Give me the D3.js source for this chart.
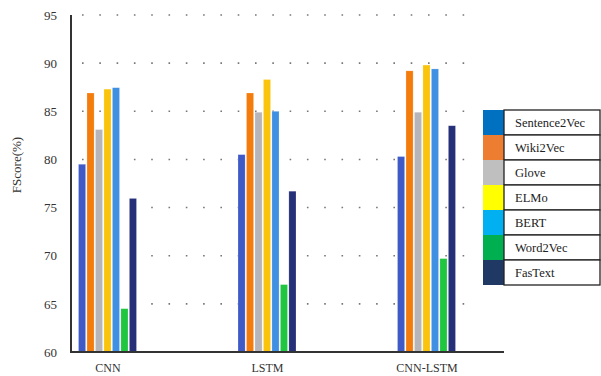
<!DOCTYPE html>
<html>
<head>
<meta charset="utf-8">
<script src="https://cdn.jsdelivr.net/npm/d3@7"></script>
<style>
  body { margin: 0; background: #fff; }
  svg text { font-family: "Liberation Serif", "Times New Roman", "DejaVu Serif", serif !important; }
</style>
</head>
<body>
<svg id="chart" width="601" height="376"></svg>
<script>
const categories = ["CNN", "LSTM", "CNN-LSTM"];
const seriesNames = ["Sentence2Vec", "Wiki2Vec", "Glove", "ELMo", "BERT", "Word2Vec", "FasText"];
const sentence2vec = [79.5, 80.5, 80.3];
const wiki2vec     = [86.9, 86.9, 89.2];
const glove        = [83.1, 84.9, 84.9];
const elmo         = [87.3, 88.3, 89.8];
const bert         = [87.45, 85.0, 89.4];
const word2vec     = [64.5, 67.0, 69.7];
const fastext      = [75.95, 76.7, 83.5];
const yTicks = [60, 65, 70, 75, 80, 85, 90, 95];
const barColors    = ["#3F5AC6", "#F47C0C", "#B5B5BA", "#FAC40C", "#3F8FE3", "#20C540", "#253078"];
const legendColors = ["#0070C0", "#ED7D31", "#BFBFBF", "#FFFF00", "#00B0F0", "#00B050", "#1F3864"];

const seriesValues = [sentence2vec, wiki2vec, glove, elmo, bert, word2vec, fastext];

const svg = d3.select("#chart");
const axisLeftX = 71, axisBottomY = 352, axisTopY = 15, axisRightX = 504;

const y = d3.scaleLinear().domain([60, 95]).range([axisBottomY, axisTopY]);
const x0 = d3.scalePoint().domain(categories).range([107.5, 426.5]);
const x1 = d3.scaleBand().domain(seriesNames).range([-29, 29]).paddingInner(0.16);

// grid (dotted)
const grid = svg.append("g");
grid.selectAll("line").data(yTicks.filter(t => t > 60)).enter().append("line")
  .attr("x1", 82).attr("x2", 465)
  .attr("y1", d => y(d)).attr("y2", d => y(d))
  .attr("stroke", "#777").attr("stroke-width", 1.6)
  .attr("stroke-dasharray", "1.6 15.7");

// bars
const groups = svg.append("g").selectAll("g").data(categories).enter().append("g")
  .attr("transform", d => `translate(${x0(d)},0)`);
groups.selectAll("rect")
  .data((c, ci) => seriesNames.map((s, si) => ({ s, si, v: seriesValues[si][ci] })))
  .enter().append("rect")
  .attr("x", d => x1(d.s))
  .attr("width", x1.bandwidth())
  .attr("y", d => y(d.v))
  .attr("height", d => y(60) - y(d.v))
  .attr("fill", d => barColors[d.si])
  .attr("stroke", "#ffffff").attr("stroke-opacity", 0.35).attr("stroke-width", 0.6);

// y axis
const yAxis = d3.axisLeft(y).tickValues(yTicks).tickSize(0).tickPadding(14).tickFormat(d3.format("d"));
const yg = svg.append("g").attr("transform", `translate(${axisLeftX},0)`).call(yAxis);
yg.select(".domain").remove();
yg.selectAll("text").attr("font-size", 13).attr("fill", "#333");

svg.append("line").attr("x1", axisLeftX).attr("x2", axisLeftX)
  .attr("y1", axisTopY).attr("y2", axisBottomY + 1)
  .attr("stroke", "#333").attr("stroke-width", 2);

// x axis
const xAxis = d3.axisBottom(x0).tickSize(0).tickPadding(11);
const xg = svg.append("g").attr("transform", `translate(0,${axisBottomY})`).call(xAxis);
xg.select(".domain").remove();
xg.selectAll("text").attr("font-size", 12).attr("fill", "#333");
svg.append("line").attr("x1", axisLeftX - 1).attr("x2", axisRightX)
  .attr("y1", axisBottomY).attr("y2", axisBottomY)
  .attr("stroke", "#333").attr("stroke-width", 2);

// y title
svg.append("text")
  .attr("transform", `translate(21,165) rotate(-90)`)
  .attr("text-anchor", "middle")
  .attr("font-size", 13).attr("fill", "#333")
  .text("FScore(%)");

// legend
const legTop = 110, rowH = 25, swX = 483, swW = 21, boxR = 600;
const leg = svg.append("g");
const rows = leg.selectAll("g").data(seriesNames).enter().append("g")
  .attr("transform", (d, i) => `translate(0,${legTop + i * rowH})`);
rows.append("rect").attr("x", swX).attr("y", 0).attr("width", swW).attr("height", rowH)
  .attr("fill", (d, i) => legendColors[i]);
rows.append("rect").attr("x", swX + swW).attr("y", 0).attr("width", boxR - swX - swW).attr("height", rowH)
  .attr("fill", "#fff").attr("stroke", "#222").attr("stroke-width", 1.3);
rows.append("text").attr("x", 515).attr("y", rowH / 2 + 4.5)
  .attr("font-size", 12.5).attr("fill", "#222").text(d => d);
</script>
</body>
</html>
